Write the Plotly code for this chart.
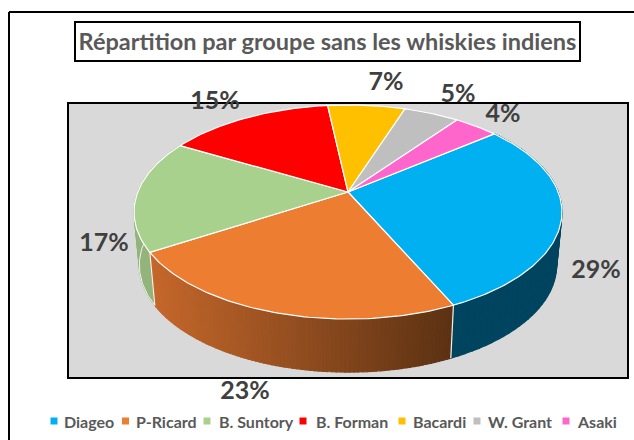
import math
import plotly.graph_objects as go

# ---- data ----
groups = ["Diageo", "P-Ricard", "B. Suntory", "B. Forman", "Bacardi", "W. Grant", "Asaki"]
shares = [29, 23, 17, 15, 7, 5, 4]
colors = ["#00B0F0", "#ED7D31", "#A9D18E", "#FF0000", "#FFC000", "#BFBFBF", "#FF66CC"]
wall_colors = ["#00445F", None, "#93B47B", "#A00000", "#A07800", "#808080", "#A04080"]
title_text = "Répartition par groupe sans les whiskies indiens"

# ---- layout constants (pixels of the 634x440 page) ----
W, H = 634, 440
APEX = (348, 192)
A, B, K = 210.2, 103.3, 0.187      # perspective ellipse
DEPTH, SX = 53, 0.975
START_DEG = 51
label_pos = [(596, 272), (245, 393), (104, 245), (215, 103), (386, 84), (458, 96), (503, 116)]
legend_marker_x = [54, 125.5, 207, 303, 402, 477, 566]
legend_text_x = [62, 134, 217, 314, 411, 486, 575]
LEGEND_Y = 421
FONT = "Lato, Carlito, Calibri, sans-serif"


def top(deg, r=1.0):
    t = math.radians(deg)
    u, v = r * math.sin(t), r * math.cos(t)
    w = 1 + K * v
    return APEX[0] + A * u / w, APEX[1] - B * v / w


def bottom(deg):
    x, y = top(deg)
    return APEX[0] + (x - APEX[0]) * SX, y + DEPTH


def arc(d0, d1, step=1.0):
    n = max(2, int(abs(d1 - d0) / step) + 1)
    return [d0 + (d1 - d0) * i / (n - 1) for i in range(n)]


def lerp_hex(c0, c1, t):
    a = [int(c0[i:i + 2], 16) for i in (1, 3, 5)]
    b = [int(c1[i:i + 2], 16) for i in (1, 3, 5)]
    return "#%02X%02X%02X" % tuple(round(p + (q - p) * t) for p, q in zip(a, b))


fig = go.Figure()
edges = [START_DEG]
for s in shares:
    edges.append(edges[-1] + s * 3.6)


def wall(degs, color):
    pts_t = [top(d) for d in degs]
    pts_b = [bottom(d) for d in reversed(degs)]
    xs = [p[0] for p in pts_t + pts_b] + [pts_t[0][0]]
    ys = [p[1] for p in pts_t + pts_b] + [pts_t[0][1]]
    fig.add_trace(go.Scatter(x=xs, y=ys, mode="lines", fill="toself", fillcolor=color,
                             line=dict(color=color, width=1.2),
                             hoverinfo="skip", showlegend=False))


# walls as thin strips, so the side silhouette stays straight where rims cross
for i in (0, 2):
    degs = arc(edges[i], edges[i + 1], 2.0)
    for a0, a1 in zip(degs[:-1], degs[1:]):
        wall([a0, a1], wall_colors[i])

# orange wall with left-to-right shading
d0, d1 = edges[1], edges[2]
strips = int(d1 - d0)
for j in range(strips):
    a0 = d1 - (d1 - d0) * j / strips
    a1 = d1 - (d1 - d0) * (j + 1) / strips
    x_mid = top((a0 + a1) / 2)[0]
    t = (x_mid - 152) / (452 - 152)
    wall([a0, a1], lerp_hex("#C5672B", "#5C3213", max(0, min(1, t))))

# white seams of the walls
for d in (edges[1], edges[2]):
    p, q = top(d), bottom(d)
    fig.add_trace(go.Scatter(x=[p[0], q[0]], y=[p[1], q[1]], mode="lines",
                             line=dict(color="#F2F2F2", width=1.2),
                             hoverinfo="skip", showlegend=False))
lo = [bottom(d) for d in arc(edges[2], edges[2] + 35)]
fig.add_trace(go.Scatter(x=[p[0] for p in lo], y=[p[1] for p in lo], mode="lines",
                         line=dict(color="#F2F2F2", width=1),
                         hoverinfo="skip", showlegend=False))

# top faces
for i, name in enumerate(groups):
    degs = arc(edges[i], edges[i + 1])
    pts = [APEX] + [top(d) for d in degs] + [APEX]
    fig.add_trace(go.Scatter(x=[p[0] for p in pts], y=[p[1] for p in pts], mode="lines",
                             fill="toself", fillcolor=colors[i],
                             line=dict(color="#FFFFFF", width=1.2), name=name,
                             text=f"{name}: {shares[i]}%", hoverinfo="text", showlegend=False))

# percentage labels
fig.add_trace(go.Scatter(x=[p[0] for p in label_pos], y=[p[1] for p in label_pos], mode="text",
                         text=[f"{s}%" for s in shares],
                         textfont=dict(family=FONT, size=25, color="#404040", weight="bold"),
                         hoverinfo="skip", showlegend=False))

# legend row
fig.add_trace(go.Scatter(x=legend_marker_x, y=[LEGEND_Y] * len(groups), mode="markers",
                         marker=dict(symbol="square", size=7, color=colors),
                         hoverinfo="skip", showlegend=False))
annotations = [dict(x=x, y=LEGEND_Y, xref="x", yref="y", text=g, showarrow=False,
                    xanchor="left", yanchor="middle", xshift=0,
                    font=dict(family=FONT, size=16, color="#595959", weight="bold"))
               for x, g in zip(legend_text_x, groups)]

black = dict(color="#000000", width=2)
shapes = [
    dict(type="line", xref="x", yref="y", x0=9, x1=9, y0=12, y1=H, line=black, layer="below"),
    dict(type="line", xref="x", yref="y", x0=9, x1=W, y0=12, y1=12, line=black, layer="below"),
    dict(type="rect", xref="x", yref="y", x0=68, x1=628, y0=103, y1=378,
         fillcolor="#D9D9D9", line=black, layer="below"),
    dict(type="rect", xref="x", yref="y", x0=75, x1=580, y0=22, y1=61,
         fillcolor="#FFFFFF", line=black, layer="below"),
]

fig.update_layout(
    width=W, height=H, autosize=False,
    margin=dict(l=0, r=0, t=0, b=0, pad=0),
    paper_bgcolor="#FFFFFF", plot_bgcolor="#FFFFFF",
    showlegend=False,
    title=dict(text=title_text, x=327.5 / W, y=1 - 42 / H, xanchor="center", yanchor="middle",
               font=dict(family=FONT, size=23.5, color="#595959", weight="bold")),
    xaxis=dict(range=[0, W], visible=False, fixedrange=True),
    yaxis=dict(range=[H, 0], visible=False, fixedrange=True),
    shapes=shapes, annotations=annotations,
)
fig.write_html("out.html", config={"displayModeBar": False},
               post_script="document.body.style.margin='0';document.body.style.overflow='hidden';")
